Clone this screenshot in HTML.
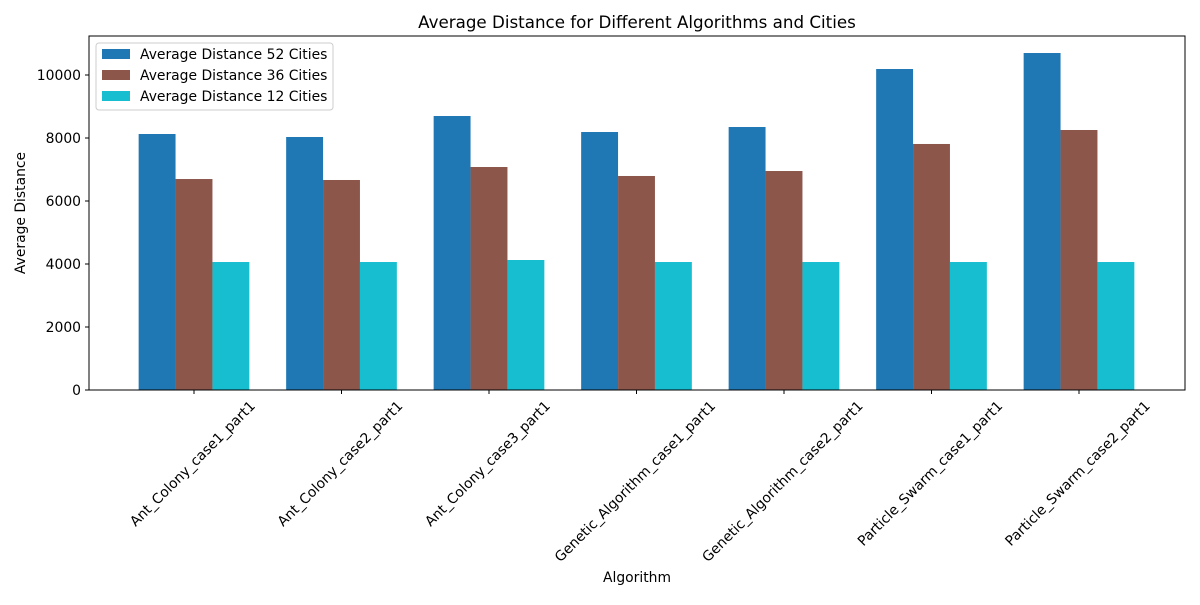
<!DOCTYPE html>
<html><head><meta charset="utf-8"><style>
body{margin:0;background:#fff;}
svg{font-family:"DejaVu Sans","Liberation Sans",sans-serif;}
</style></head><body>
<svg id="chart" width="1200" height="600" xmlns="http://www.w3.org/2000/svg">
<rect width="1200" height="600" fill="#fff"/>
<text x="637" y="28" font-size="16.7" text-anchor="middle">Average Distance for Different Algorithms and Cities</text>
<g id="bars"></g>
<g id="axes"></g>
<rect x="89" y="36" width="1096" height="354" fill="none" stroke="#000" stroke-width="1"/>
<text x="637" y="582" font-size="13.9" text-anchor="middle">Algorithm</text>
<text transform="translate(25,213) rotate(-90)" font-size="13.9" text-anchor="middle">Average Distance</text>
<g>
<rect x="96" y="43" width="237" height="67" fill="#fff" stroke="#ccc" rx="3"/>
<rect x="102" y="49" width="28" height="10" fill="#1f77b4"/>
<text x="140" y="59" font-size="13.9">Average Distance 52 Cities</text>
<rect x="102" y="70" width="28" height="10" fill="#8c564b"/>
<text x="140" y="80" font-size="13.9">Average Distance 36 Cities</text>
<rect x="102" y="91" width="28" height="10" fill="#17becf"/>
<text x="140" y="101" font-size="13.9">Average Distance 12 Cities</text>
</g>
</svg>
<script>
const categories=["Ant_Colony_case1_part1","Ant_Colony_case2_part1","Ant_Colony_case3_part1","Genetic_Algorithm_case1_part1","Genetic_Algorithm_case2_part1","Particle_Swarm_case1_part1","Particle_Swarm_case2_part1"];
const dist52=[8127,8032,8698,8190,8349,10190,10698];
const dist36=[6698,6667,7079,6794,6952,7810,8254];
const dist12=[4063,4063,4127,4063,4063,4063,4063];
const yTicks=[0,2000,4000,6000,8000,10000];
const NS="http://www.w3.org/2000/svg";
function xs(i){return 194+i*147.5;}
function ys(v){return 390-v*0.0315;}
const bw=36.9;
const bars=document.getElementById('bars'),axes=document.getElementById('axes');
const series=[[dist52,"#1f77b4",-1,"52"],[dist36,"#8c564b",0,"36"],[dist12,"#17becf",1,"12"]];
series.forEach(s=>{s[0].forEach((v,i)=>{
 const r=document.createElementNS(NS,'rect');
 const cx=xs(i)+s[2]*bw;
 r.setAttribute('x',cx-bw/2);r.setAttribute('width',bw);
 r.setAttribute('y',ys(v));r.setAttribute('height',ys(0)-ys(v));
 r.setAttribute('fill',s[1]);
 
 
 bars.appendChild(r);});});
yTicks.forEach(t=>{
 const y=ys(t);
 const l=document.createElementNS(NS,'line');
 l.setAttribute('x1',85);l.setAttribute('x2',89);l.setAttribute('y1',y);l.setAttribute('y2',y);l.setAttribute('stroke','#000');
 axes.appendChild(l);
 const tx=document.createElementNS(NS,'text');
 tx.setAttribute('x',81);tx.setAttribute('y',y+5);tx.setAttribute('font-size','13.9');tx.setAttribute('text-anchor','end');
 tx.textContent=t;
 
 
 axes.appendChild(tx);});
categories.forEach((c,i)=>{
 const x=xs(i);
 const l=document.createElementNS(NS,'line');
 l.setAttribute('x1',x);l.setAttribute('x2',x);l.setAttribute('y1',390);l.setAttribute('y2',394);l.setAttribute('stroke','#000');
 axes.appendChild(l);
 const tx=document.createElementNS(NS,'text');
 tx.setAttribute('font-size','13.9');tx.setAttribute('text-anchor','middle');
 tx.setAttribute('dominant-baseline','central');
 tx.textContent=c;
 
 
 axes.appendChild(tx);
 const L=tx.getComputedTextLength();
 const half=(L+14)*0.7071/2;
 tx.setAttribute('transform','translate('+(x-1)+','+(399+half)+') rotate(-45)');
});
</script>
</body></html>
